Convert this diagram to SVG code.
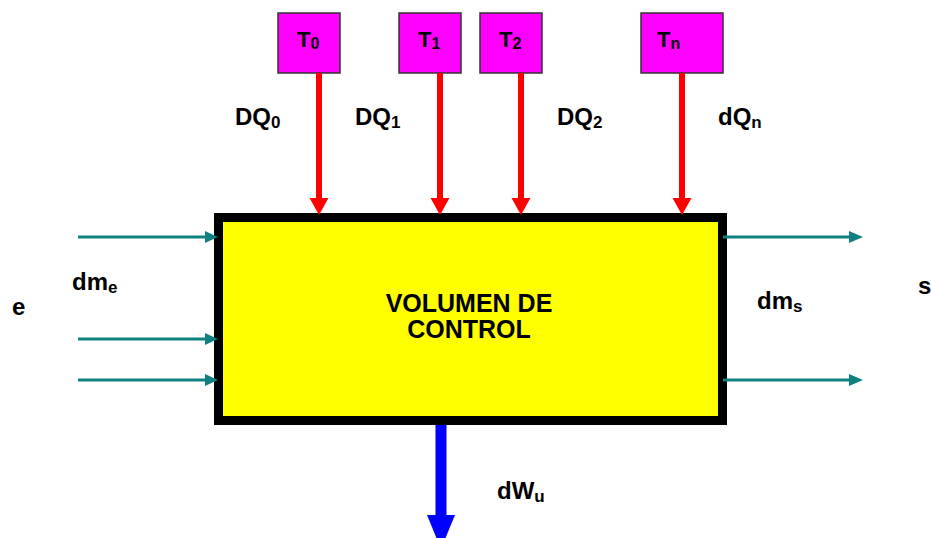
<svg xmlns="http://www.w3.org/2000/svg" width="931" height="538" viewBox="0 0 931 538">
<style>
.lbl{font-family:"Liberation Sans",Arial,sans-serif;font-weight:bold;font-size:24px;fill:#000}
.big{font-size:25px}
.sub{font-size:17px}
.tl{font-family:"Liberation Sans",Arial,sans-serif;font-weight:bold;font-size:22px;fill:#000}
.tsub{font-size:16px}
.src{fill:#FF00FF;stroke:#333;stroke-width:1.5}
.heat{stroke:#FF0000;stroke-width:6;fill:none}
.heathead{fill:#FF0000}
.mass{stroke:#108080;stroke-width:3;fill:none}
.masshead{fill:#108080}
</style>
<rect width="931" height="538" fill="#FFFFFF"/>
<g id="control-volume">
<rect x="218.5" y="217.5" width="504" height="203" fill="#FFFF00" stroke="#000" stroke-width="9"/>
<text class="lbl big" x="469" y="312" text-anchor="middle">VOLUMEN DE</text>
<text class="lbl big" x="469" y="338" text-anchor="middle">CONTROL</text>
</g>
<g id="T0"><rect class="src" x="278" y="13" width="62" height="60"/><text class="tl" x="297" y="47">T<tspan class="tsub" dy="2">0</tspan></text></g>
<g id="T1"><rect class="src" x="399" y="13" width="62" height="60"/><text class="tl" x="418" y="47">T<tspan class="tsub" dy="2">1</tspan></text></g>
<g id="T2"><rect class="src" x="480" y="13" width="62" height="60"/><text class="tl" x="499" y="47">T<tspan class="tsub" dy="2">2</tspan></text></g>
<g id="Tn"><rect class="src" x="641" y="13" width="82" height="60"/><text class="tl" x="657" y="47">T<tspan class="tsub" dy="2">n</tspan></text></g>
<g id="connectors">
<line class="heat" x1="319" y1="73" x2="319" y2="200"/><polygon class="heathead" points="309.5,198 328.5,198 319,215"/>
<line class="heat" x1="440" y1="73" x2="440" y2="200"/><polygon class="heathead" points="430.5,198 449.5,198 440,215"/>
<line class="heat" x1="521" y1="73" x2="521" y2="200"/><polygon class="heathead" points="511.5,198 530.5,198 521,215"/>
<line class="heat" x1="682" y1="73" x2="682" y2="200"/><polygon class="heathead" points="672.5,198 691.5,198 682,215"/>
<line class="mass" x1="78" y1="237" x2="207" y2="237"/><polygon class="masshead" points="205,231 218,237 205,243"/>
<line class="mass" x1="78" y1="339" x2="207" y2="339"/><polygon class="masshead" points="205,333 218,339 205,345"/>
<line class="mass" x1="78" y1="380" x2="207" y2="380"/><polygon class="masshead" points="205,374 218,380 205,386"/>
<line class="mass" x1="723" y1="237" x2="851" y2="237"/><polygon class="masshead" points="849,231 863,237 849,243"/>
<line class="mass" x1="723" y1="380" x2="851" y2="380"/><polygon class="masshead" points="849,374 863,380 849,386"/>
<line x1="441" y1="425" x2="441" y2="517" stroke="#0000FF" stroke-width="11"/>
<polygon points="427,515 455,515 441,549" fill="#0000FF"/>
</g>
<g id="labels">
<text class="lbl" x="235" y="125">DQ<tspan class="sub" dy="3">0</tspan></text>
<text class="lbl" x="355" y="125">DQ<tspan class="sub" dy="3">1</tspan></text>
<text class="lbl" x="557" y="125">DQ<tspan class="sub" dy="3">2</tspan></text>
<text class="lbl" x="718" y="125">dQ<tspan class="sub" dy="3">n</tspan></text>
<text class="lbl" x="72" y="290">dm<tspan class="sub" dy="3">e</tspan></text>
<text class="lbl" x="12" y="315">e</text>
<text class="lbl" x="757" y="309">dm<tspan class="sub" dy="3">s</tspan></text>
<text class="lbl" x="918" y="294">s</text>
<text class="lbl" x="497" y="499">dW<tspan class="sub" dy="3">u</tspan></text>
</g>
</svg>
